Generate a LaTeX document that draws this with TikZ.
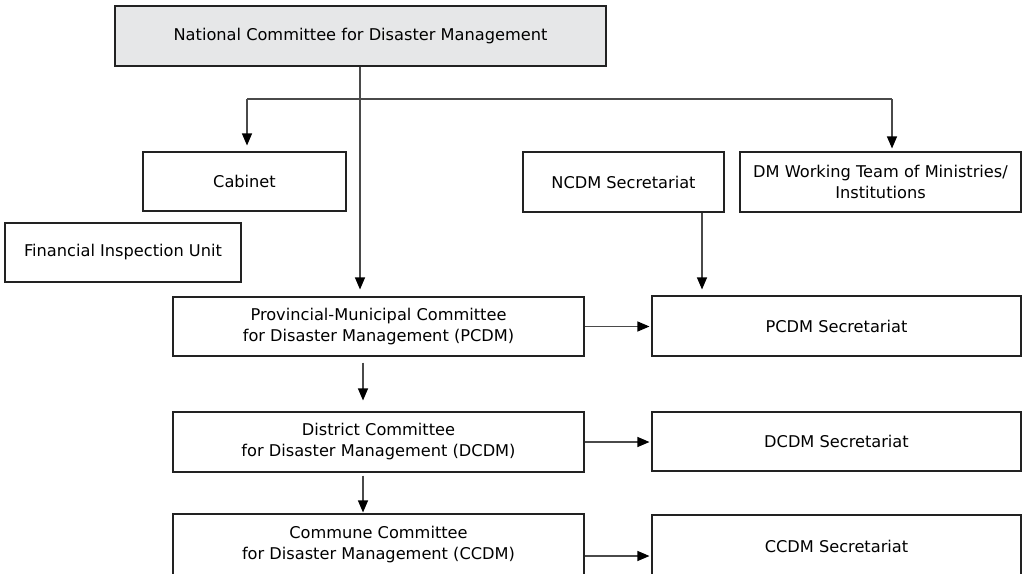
\documentclass[tikz,border=0pt]{standalone}
\usepackage{fontspec}
\setmainfont{DejaVu Sans}
\usetikzlibrary{arrows.meta}
\definecolor{boxline}{HTML}{222222}
\definecolor{conline}{HTML}{4A4A4A}
\definecolor{natfill}{HTML}{E6E7E8}
\definecolor{txt}{HTML}{000000}
\begin{document}
\begin{tikzpicture}[x=1pt,y=-1pt,
  box/.style={draw=boxline,line width=1.1pt,inner sep=0pt,align=center,text=txt,
    font=\fontsize{16.2}{21}\selectfont},
  arr/.style={draw=conline,line width=1.1pt,-{Triangle[length=12pt,width=10pt,fill=black,color=black]}},
  con/.style={draw=conline,line width=1.1pt}]
\useasboundingbox (0,0) rectangle (1025,573);
\clip (0,0) rectangle (1025,573);
% nodes: centre, width, height
\node[box,fill=natfill,minimum width=491pt,minimum height=60pt] (nat) at (360.5,36) {National Committee for Disaster Management};
\node[box,minimum width=203pt,minimum height=59pt] (cab) at (244.5,181.5) {Cabinet};
\node[box,minimum width=236pt,minimum height=59pt] (fin) at (123,252.5) {Financial Inspection Unit};
\node[box,minimum width=201pt,minimum height=60pt] (ncdm) at (623.5,182) {NCDM Secretariat};
\node[box,minimum width=281pt,minimum height=60pt] (dmw) at (880.5,182) {DM Working Team of Ministries/\\Institutions};
\node[box,minimum width=411pt,minimum height=59pt] (pcdm) at (378.5,326.5) {Provincial-Municipal Committee\\for Disaster Management (PCDM)};
\node[box,minimum width=369pt,minimum height=60pt] (pcdms) at (836.5,326) {PCDM Secretariat};
\node[box,minimum width=411pt,minimum height=60pt] (dcdm) at (378.5,442) {District Committee\\for Disaster Management (DCDM)};
\node[box,minimum width=369pt,minimum height=59pt] (dcdms) at (836.5,441.5) {DCDM Secretariat};
\node[box,minimum width=411pt,minimum height=62pt] (ccdm) at (378.5,545) {Commune Committee\\for Disaster Management (CCDM)};
\node[box,minimum width=369pt,minimum height=62pt] (ccdms) at (836.5,546) {CCDM Secretariat};
% helper coordinates
\coordinate (bl) at (247,99);
\coordinate (br) at (892,99);
\coordinate (mx) at (360,0);
\coordinate (nx) at (702,0);
\coordinate (vx) at (363,0);
% connectors
\draw[con] (bl) -- (br);
\draw[arr,shorten >=6pt] (bl) -- (bl |- cab.north);
\draw[arr,shorten >=3pt] (br) -- (br |- dmw.north);
\draw[arr,shorten >=7pt] (nat.south -| mx) -- (pcdm.north -| mx);
\draw[arr,shorten >=6pt] (ncdm.south -| nx) -- (pcdms.north -| nx);
\draw[arr,shorten <=6pt,shorten >=11pt] (pcdm.south -| vx) -- (dcdm.north -| vx);
\draw[arr,shorten <=3pt,shorten >=1pt] (dcdm.south -| vx) -- (ccdm.north -| vx);
\draw[arr,shorten >=2pt] (pcdm.east) -- (pcdms.west |- pcdm.east);
\draw[arr,shorten >=2pt] (dcdm.east) -- (dcdms.west |- dcdm.east);
\draw[arr,shorten >=2pt] (ccdm.east |- 0,556) -- (ccdms.west |- 0,556);
\end{tikzpicture}
\end{document}
